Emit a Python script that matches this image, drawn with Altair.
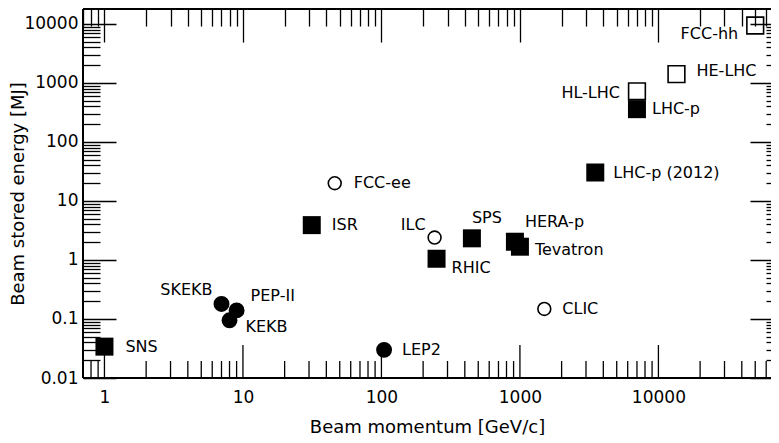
import altair as alt
import pandas as pd

# ---- data ----
names = ["SNS", "SKEKB", "PEP-II", "KEKB", "LEP2", "FCC-ee", "ISR", "ILC", "RHIC",
         "SPS", "HERA-p", "Tevatron", "CLIC", "LHC-p (2012)", "LHC-p", "HL-LHC",
         "HE-LHC", "FCC-hh"]
momentum = [1.0, 7, 9, 8, 104.5, 46, 31.4, 242, 250,
            450, 920, 1000, 1500, 3500, 7000, 7000, 13500, 50000]
energy = [0.034, 0.18, 0.14, 0.095, 0.03, 20, 3.9, 2.4, 1.05,
          2.33, 2.04, 1.68, 0.148, 30.4, 360, 723, 1410, 9430]
kind = ["fsq", "fci", "fci", "fci", "fci", "oci", "fsq", "oci", "fsq",
        "fsq", "fsq", "fsq", "oci", "fsq", "fsq", "osq", "osq", "osq"]

x_major = [1, 10, 100, 1000, 10000]
y_major = [0.01, 0.1, 1, 10, 100, 1000, 10000]
x_minor = [m * 10.0 ** e for e in range(-1, 5) for m in range(2, 10)
           if 0.7 < m * 10.0 ** e <= 65000]
y_minor = [m * 10.0 ** e for e in range(-2, 5) for m in range(2, 10)
           if m * 10.0 ** e < 17950]

X_DOM = [0.7, 65000]
Y_DOM = [0.01, 17950]

# one table: data points plus bottom-edge tick rows (sitting on the lower domain edge)
df = pd.concat([
    pd.DataFrame({"name": names, "p": momentum, "E": energy, "kind": kind}),
    pd.DataFrame({"name": "", "p": x_major, "E": Y_DOM[0], "kind": "tmaj"}),
    pd.DataFrame({"name": "", "p": x_minor, "E": Y_DOM[0], "kind": "tmin"}),
], ignore_index=True)

# label placement (pixels relative to marker): align, dx, dy
label_style = {
    "SNS": ("left", 21, 0), "SKEKB": ("right", -9, -14), "PEP-II": ("left", 14, -14),
    "KEKB": ("left", 16, 7), "LEP2": ("left", 18, 0), "FCC-ee": ("left", 19, 0),
    "ISR": ("left", 20, 0), "ILC": ("right", -9, -13), "RHIC": ("left", 15, 9),
    "SPS": ("left", 0, -20), "HERA-p": ("left", 10, -20), "Tevatron": ("left", 15, 3),
    "CLIC": ("left", 18, 0), "LHC-p (2012)": ("left", 18, 0), "LHC-p": ("left", 15, 0),
    "HL-LHC": ("right", -17, 2), "HE-LHC": ("left", 20, -3), "FCC-hh": ("right", -17, 9),
}

W, H = 688, 369
XR = W + 12  # right frame lies just beyond the visible area
FONT = "DejaVu Sans"
xs = alt.Scale(type="log", domain=X_DOM, nice=False)
ys = alt.Scale(type="log", domain=Y_DOM, nice=False)

xaxis = alt.Axis(values=x_major, format="~g", ticks=False, domain=False, grid=False,
                 labelFontSize=17, labelFont=FONT, labelPadding=11, labelColor="black",
                 title="Beam momentum [GeV/c]", titleFont=FONT, titleFontSize=18,
                 titleFontWeight="normal", titleColor="black",
                 titleBaseline="alphabetic", titleY=54)
yaxis = alt.Axis(values=y_major, format="~g", ticks=False, domain=False, grid=False,
                 labelFontSize=17, labelFont=FONT, labelPadding=5, labelColor="black",
                 title="Beam stored energy [MJ]", titleFont=FONT, titleFontSize=18,
                 titleFontWeight="normal", titleColor="black",
                 titleBaseline="alphabetic", titleX=-60, titleY=H / 2)

X = alt.X("p:Q", scale=xs, axis=None)
Y = alt.Y("E:Q", scale=ys, axis=None)

base = alt.Chart(df)

def pts(k):
    return base.transform_filter(alt.datum.kind == k)

fsq = pts("fsq").mark_square(size=324, color="black", opacity=1).encode(
    x=alt.X("p:Q", scale=xs, axis=xaxis), y=alt.Y("E:Q", scale=ys, axis=yaxis))
osq = pts("osq").mark_square(size=280, filled=False, stroke="black", strokeWidth=1.6,
                             opacity=1).encode(x=X, y=Y)
fci = pts("fci").mark_circle(size=254, color="black", opacity=1).encode(x=X, y=Y)
oci = pts("oci").mark_point(shape="circle", size=165, filled=False, stroke="black",
                            strokeWidth=1.6, opacity=1).encode(x=X, y=Y)

texts = []
for n in names:
    a, dx, dy = label_style[n]
    texts.append(
        base.transform_filter(alt.datum.name == n).mark_text(
            align=a, baseline="middle", dx=dx, dy=dy, font=FONT, fontSize=16,
            color="black").encode(x=X, y=Y, text="name:N"))

# bottom-edge ticks: upward line symbols on the lower edge
def bottom_ticks(k, length):
    return pts(k).mark_point(shape="M0,0L0,-2", size=length * length, filled=False,
                             stroke="black", strokeWidth=1.3, opacity=1).encode(x=X, y=Y)

# other inward ticks: extra, label-less axes pulled inside the frame
def tick_axis(orient, vals, length, offset):
    return alt.Axis(orient=orient, values=vals, offset=offset, tickSize=length,
                    tickWidth=1.3, tickColor="black", ticks=True, labels=False,
                    domain=False, grid=False, title="")

def xtick_layer(orient, vals, length, offset):
    return base.mark_point(opacity=0).encode(
        x=alt.X("p:Q", scale=xs, axis=tick_axis(orient, vals, length, offset)))

def ytick_layer(orient, vals, length, offset):
    return base.mark_point(opacity=0).encode(
        y=alt.Y("E:Q", scale=ys, axis=tick_axis(orient, vals, length, offset)))

ticks = [
    bottom_ticks("tmaj", 33), bottom_ticks("tmin", 17),
    xtick_layer("top", x_major, 33, -33), xtick_layer("top", x_minor, 17, -17),
    ytick_layer("left", y_major, 33, -33), ytick_layer("left", y_minor, 17, -17),
    ytick_layer("right", y_major, 33, 12 - 33), ytick_layer("right", y_minor, 17, 12 - 17),
]

frame_src = alt.Chart(pd.DataFrame({"f": [1]}))
frame = [
    frame_src.mark_rule(color="black", strokeWidth=2).encode(
        x=alt.value(0), x2=alt.value(XR), y=alt.value(0)),
    frame_src.mark_rule(color="black", strokeWidth=2).encode(
        x=alt.value(0), x2=alt.value(XR), y=alt.value(H)),
    frame_src.mark_rule(color="black", strokeWidth=2).encode(
        x=alt.value(0), y=alt.value(0), y2=alt.value(H)),
]

chart = alt.layer(fsq, osq, fci, oci, *texts, *ticks, *frame).resolve_axis(
    x="independent", y="independent"
).properties(
    width=W, height=H,
    autosize=alt.AutoSizeParams(type="none"),
    padding={"left": 75, "top": 1, "right": 0, "bottom": 57},
    background="white",
).configure_view(stroke=None)

chart.save("out.html", embed_options={"renderer": "svg", "actions": False})
